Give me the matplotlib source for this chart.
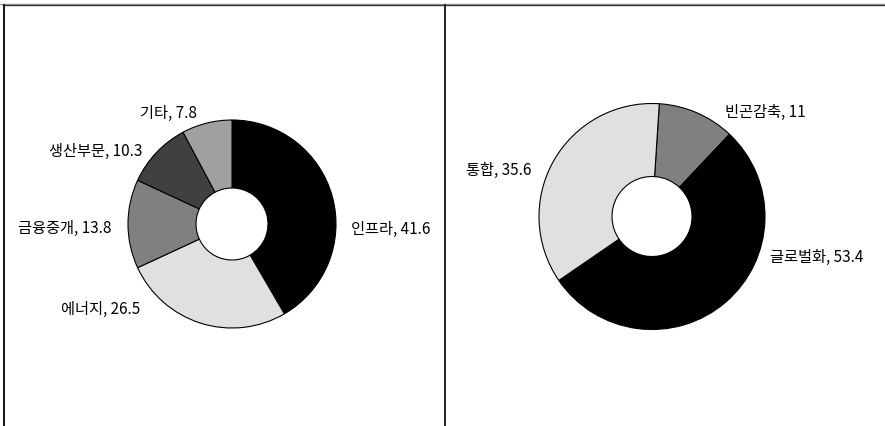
import matplotlib
matplotlib.use("Agg")
import matplotlib.pyplot as plt
from matplotlib.lines import Line2D

plt.rcParams['font.family'] = ['Noto Sans CJK KR', 'DejaVu Sans']

# Left donut: sector shares
sector_labels = ["인프라", "에너지", "금융중개", "생산부문", "기타"]
sector_values = [41.6, 26.5, 13.8, 10.3, 7.8]
sector_colors = ["#000000", "#e0e0e0", "#808080", "#404040", "#a0a0a0"]

# Right donut: objective shares
goal_labels = ["빈곤감축", "글로벌화", "통합"]
goal_values = [11, 53.4, 35.6]
goal_colors = ["#808080", "#000000", "#e0e0e0"]

W, H = 885, 426
fig = plt.figure(figsize=(W / 100, H / 100), dpi=100)
fig.patch.set_facecolor("white")

HALF = 150  # half-size of each square axes, in pixels
LABEL_SIZE = 11


def make_ax(cx, cy_top):
    """Square axes of 2*HALF px centred on pixel (cx, cy_top) measured from the top."""
    cy = H - cy_top
    return fig.add_axes([(cx - HALF) / W, (cy - HALF) / H, 2 * HALF / W, 2 * HALF / H])


def finish_ax(ax):
    # 100 px per data unit
    ax.set_xlim(-HALF / 100, HALF / 100)
    ax.set_ylim(-HALF / 100, HALF / 100)
    ax.set_aspect("equal")
    ax.axis("off")


wedge_style = dict(edgecolor="black", linewidth=0.8)

# Left chart
ax1 = make_ax(232, 224)
ax1.pie(sector_values, colors=sector_colors, startangle=90, counterclock=False,
        radius=1.04, wedgeprops=dict(width=0.68, **wedge_style))
finish_ax(ax1)
left_label_pos = [(1.19, -0.05, "left"), (-0.92, -0.85, "right"), (-1.21, -0.04, "right"),
                  (-0.90, 0.73, "right"), (-0.35, 1.11, "right")]
for name, val, (x, y, ha) in zip(sector_labels, sector_values, left_label_pos):
    ax1.text(x, y, f"{name}, {val:g}", ha=ha, va="center", fontsize=LABEL_SIZE, color="black")

# Right chart
ax2 = make_ax(652, 216.5)
ax2.pie(goal_values, colors=goal_colors, startangle=86.3, counterclock=False,
        radius=1.13, wedgeprops=dict(width=0.73, **wedge_style))
finish_ax(ax2)
right_label_pos = [(0.73, 1.045, "left"), (1.18, -0.405, "left"), (-1.21, 0.465, "right")]
for name, val, (x, y, ha) in zip(goal_labels, goal_values, right_label_pos):
    ax2.text(x, y, f"{name}, {val:g}", ha=ha, va="center", fontsize=LABEL_SIZE, color="black")

# Frame lines: top rule, left edge, centre divider
def px_line(x0, y0, x1, y1, color, lw):
    fig.add_artist(Line2D([x0 / W, x1 / W], [1 - y0 / H, 1 - y1 / H],
                          color=color, linewidth=lw, transform=fig.transFigure))

px_line(0, 3.5, W, 3.5, "#a0a0a0", 1.0)
px_line(3, 5, W, 5, "#333333", 1.0)
px_line(3.5, 5, 3.5, H, "#111111", 1.4)
px_line(445.5, 5, 445.5, H, "#222222", 1.4)

fig.savefig("out.png", dpi=100, facecolor="white")
